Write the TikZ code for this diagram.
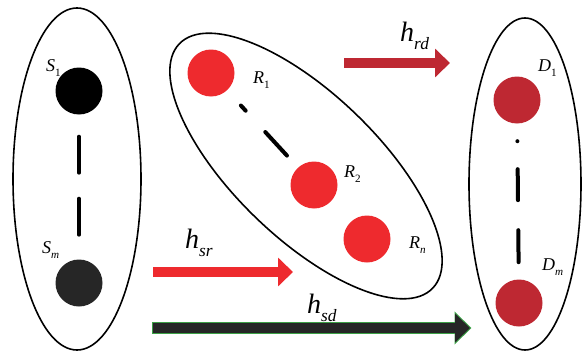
\documentclass[tikz,border=0pt]{standalone}
\usepackage{fontspec}
\setmainfont{Liberation Serif}
\usetikzlibrary{arrows.meta,shapes.geometric}
\definecolor{red}{RGB}{238,42,46}
\definecolor{darkred}{RGB}{190,40,50}
\definecolor{darkgray}{RGB}{38,38,38}
\definecolor{green}{RGB}{60,160,70}
\newcommand{\sublabel}[2]{\textit{#1}\raisebox{-0.3em}{\scalebox{0.62}{#2}}}

\begin{document}
\begin{tikzpicture}[x=1pt,y=-1pt]

\def\noderadius{47pt}

\tikzset{line/.style={draw,line width=1.6pt}}
\tikzset{group/.style={line,ellipse,inner sep=0pt}}
\tikzset{node/.style={circle,inner sep=0pt,minimum size=\noderadius}}
\tikzset{dashline/.style={line width=4pt,line cap=round}}
\tikzset{textnode/.style={inner sep=0pt,anchor=base west,font=\fontsize{18}{18}\selectfont}}
\tikzset{chantext/.style={inner sep=0pt,anchor=base west,font=\fontsize{28}{28}\selectfont}}
\tikzset{flow/.style={line width=10pt,-{Triangle[length=15pt,width=28pt]}}}

\useasboundingbox (0,0) rectangle (582,351);

% groups
\node[group,minimum width=128pt,minimum height=342pt] (srcgroup) at (77,179) {};
\node[group,minimum width=352pt,minimum height=144pt,rotate=-44] (relgroup) at (306,166) {};
\node[group,minimum width=112pt,minimum height=332pt] (dstgroup) at (525,184) {};

% sources
\node[node,fill=black] (s1) at (79,91) {};
\node[node,fill=darkgray] (sm) at (79,283) {};
\node[textnode] (s1lbl) at (46,71) {\sublabel{S}{1}};
\node[textnode] (smlbl) at (42,253) {\sublabel{S}{\textit{m}}};
\draw[dashline,dash pattern=on 36pt off 26pt,shorten <=22pt,shorten >=22pt] (s1) -- (sm);

% relays
\node[node,fill=red] (r1) at (211,73) {};
\node[node,fill=red] (r2) at (314,185) {};
\node[node,fill=red] (rn) at (367,239) {};
\node[textnode] (r1lbl) at (253,83) {\sublabel{R}{1}};
\node[textnode] (r2lbl) at (344,177) {\sublabel{R}{2}};
\node[textnode] (rnlbl) at (409,248) {\sublabel{R}{\textit{n}}};
\draw[dashline,dash pattern=on 7pt off 29pt on 32pt off 60pt,shorten <=20.5pt] (r1) -- (r2);

% destinations
\node[node,fill=darkred] (d1) at (517,100) {};
\node[node,fill=darkred] (dm) at (519,303) {};
\node[textnode] (d1lbl) at (538,71) {\sublabel{D}{1}};
\node[textnode] (dmlbl) at (542,270) {\sublabel{D}{\textit{m}}};
\draw[dashline,dash pattern=on 0pt off 28pt on 31pt off 30pt on 32pt off 100pt,shorten <=17.5pt,shorten >=15.5pt] (d1) -- (dm);

% channels
\coordinate (rdstart) at (344,63);
\coordinate (rdend) at (450,63);
\coordinate (srstart) at (153,272);
\coordinate (srend) at (293,272);
\coordinate (sdstart) at (153,328);
\coordinate (sdend) at (470,328);

\path[draw,flow,color=darkred] (rdstart) to (rdend);
\path[draw,flow,color=red] (srstart) to (srend);
\path[draw,line width=12pt,color=green,-{Triangle[length=17pt,width=32pt]}] ([xshift=-1pt]sdstart) to ([xshift=1.5pt]sdend);
\path[draw,flow,color=darkgray] (sdstart) to (sdend);

\node[chantext] (rdlbl) at (400,41) {\sublabel{h}{\textit{rd}}};
\node[chantext] (srlbl) at (185,248) {\sublabel{h}{\textit{sr}}};
\node[chantext] (sdlbl) at (307,313) {\sublabel{h}{\textit{sd}}};

\end{tikzpicture}
\end{document}
